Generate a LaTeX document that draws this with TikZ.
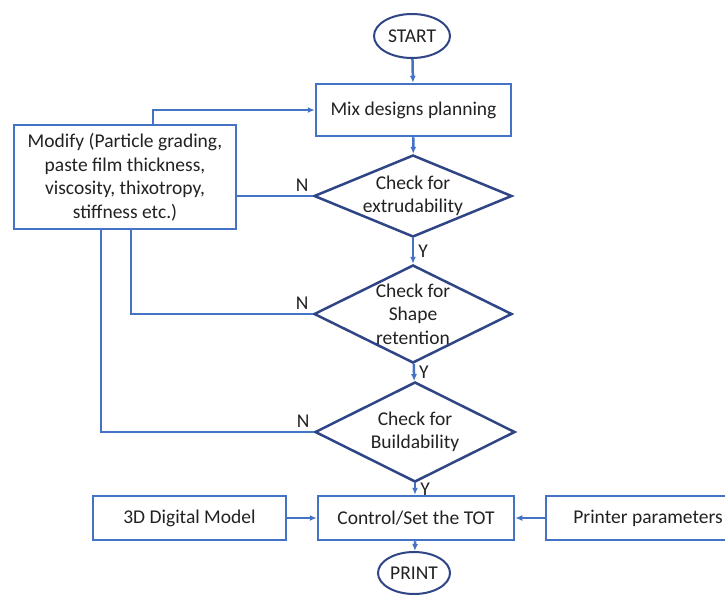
\documentclass[tikz,border=0pt]{standalone}
\usepackage{fontspec}
\setmainfont{Carlito}
\usepackage{tikz}
\usetikzlibrary{shapes.geometric}
\usetikzlibrary{arrows.meta}
\definecolor{boxblue}{HTML}{4472C4}
\definecolor{navyblue}{HTML}{2F4585}
\definecolor{inkgray}{HTML}{222222}
\tikzset{>={Latex[length=7pt,width=6pt]}}
\tikzset{
  terminal/.style={ellipse, draw=navyblue, line width=2pt, inner sep=0pt, text=inkgray},
  process/.style={rectangle, draw=boxblue, line width=2.5pt, inner sep=0pt, align=center, text=inkgray},
  decision/.style={diamond, draw=navyblue, line width=2.5pt, inner sep=0pt},
  dtext/.style={align=center, text=inkgray},
  flow/.style={draw=boxblue, line width=2.5pt},
  nlabel/.style={text=inkgray, inner sep=3pt, anchor=south east},
  ylabel/.style={text=inkgray, inner sep=4pt, right},
}

\begin{document}
\begin{tikzpicture}[x=1pt, y=-1pt, font=\fontsize{19.5}{23.5}\selectfont]
  \useasboundingbox (0,0) rectangle (725,594);
  \fill[white] (0,0) rectangle (725,594);

  % main column
  \node[terminal, minimum width=76pt, minimum height=44pt] (start) at (412,36) {START};
  \node[process, minimum width=195pt, minimum height=52pt] (mix) at (413.5,110) {Mix designs planning};
  \node[decision, minimum width=198pt, minimum height=82pt,
        label={[dtext]center:Check for\\extrudability}] (extr) at (413,196) {};
  \node[decision, minimum width=198pt, minimum height=98pt,
        label={[dtext]center:Check for\\Shape\\retention}] (shape) at (413,314) {};
  \node[decision, minimum width=200pt, minimum height=100pt,
        label={[dtext]center:Check for\\Buildability}] (build) at (415,432) {};
  \node[process, minimum width=196pt, minimum height=44pt] (ctrl) at (416,518) {Control/Set the TOT};
  \node[terminal, minimum width=72pt, minimum height=42pt] (print) at (414,573) {PRINT};

  % side boxes
  \node[process, minimum width=222pt, minimum height=104pt] (modify) at (125,177)
    {Modify (Particle grading,\\paste film thickness,\\viscosity, thixotropy,\\stiffness etc.)};
  \node[process, minimum width=193pt, minimum height=44pt] (model) at (189.5,518) {3D Digital Model};
  \node[process, minimum width=204pt, minimum height=44pt] (printer) at (648,518) {Printer parameters};

  % yes path
  \draw[flow, ->] (start) -- (mix);
  \draw[flow, ->] (mix) -- (extr);
  \draw[flow, ->] (extr) -- node[ylabel] {Y} (shape);
  \draw[flow, ->] (shape) -- node[ylabel] {Y} (build);
  \draw[flow, ->] (build.south) -- node[ylabel] {Y} (build.south |- ctrl.north);
  \draw[flow, ->] (ctrl) -- (print);
  \draw[flow, ->] (model) -- (ctrl);
  \draw[flow, ->] (printer) -- (ctrl);

  % no path
  \draw[flow] (extr.west) node[nlabel] {N} -- (modify.east |- extr.west);
  \draw[flow] (shape.west) node[nlabel] {N} -| ([xshift=6pt]modify.south);
  \draw[flow] (build.west) node[nlabel] {N} -| ([xshift=-24pt]modify.south);
  \draw[flow, ->] ([xshift=28pt]modify.north) |- (mix.west);
\end{tikzpicture}
\end{document}
